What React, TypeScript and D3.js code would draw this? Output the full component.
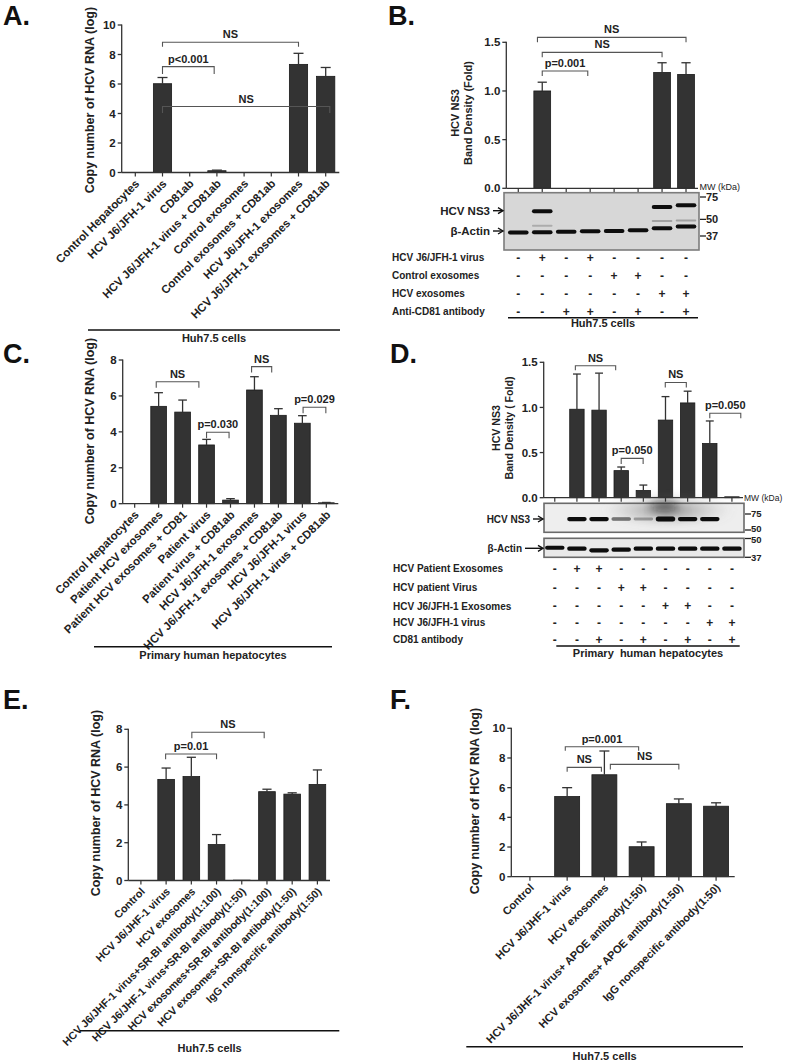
import React from 'react';
import * as d3 from 'd3';

const FONT = "'Liberation Sans', Arial, Helvetica, sans-serif";

// ================= Panel A =================
const categoriesA = [
  'Control Hepatocytes', 'HCV J6/JFH-1 virus', 'CD81ab', 'HCV J6/JFH-1 virus + CD81ab',
  'Control exosomes', 'Control exosomes + CD81ab', 'HCV J6/JFH-1 exosomes', 'HCV J6/JFH-1 exosomes + CD81ab',
];
const valuesA = [0, 6.02, 0, 0.12, 0, 0, 7.33, 6.52];
const errorsA = [0, 0.42, 0, 0.04, 0, 0, 0.75, 0.6];
const yTicksA = [0, 2, 4, 6, 8, 10];
const bracketsA = [
  { from: 1, to: 6, level: 8.83, arm: 0.3, label: 'NS' },
  { from: 1, to: 2.9, level: 7.18, arm: 0.5, label: 'p<0.001' },
  { from: 1, to: 7.15, level: 4.47, arm: 0.43, label: 'NS' },
];

// ================= Panel B =================
const valuesB = [0, 1.0, 0, 0, 0, 0, 1.19, 1.17];
const errorsB = [0, 0.09, 0, 0, 0, 0, 0.1, 0.12];
const yTicksB = [0, 0.5, 1.0, 1.5];
const bracketsB = [
  { from: 0.8, to: 7, level: 1.551, arm: 0.05, label: 'NS' },
  { from: 1, to: 6, level: 1.397, arm: 0.05, label: 'NS' },
  { from: 1, to: 2.9, level: 1.205, arm: 0.05, label: 'p=0.001' },
];
const ns3KdaB = [0, 58, 0, 0, 0, 0, 62.5, 64.5];
const ns3IntensityB = [0, 1, 0, 0, 0, 0, 1, 1];
const faintKdaB = [0, 44.5, 0, 0, 0, 0, 48.5, 49];
const faintIntensityB = [0, 0.2, 0, 0, 0, 0, 0.25, 0.25];
const actinKdaB = [39.5, 39.6, 39.9, 40.3, 40.5, 41.0, 42.6, 43.9];
const actinIntensityB = [1, 1, 1, 1, 1, 1, 1, 1];
const mwMarkersB = [75, 50, 37];
const rowLabelsB = ['HCV J6/JFH-1 virus', 'Control exosomes', 'HCV exosomes', 'Anti-CD81 antibody'];
const signsB = [
  ['-', '+', '-', '+', '-', '-', '-', '-'],
  ['-', '-', '-', '-', '+', '+', '-', '-'],
  ['-', '-', '-', '-', '-', '-', '+', '+'],
  ['-', '-', '+', '+', '-', '+', '-', '+'],
];

// ================= Panel C =================
const categoriesC = [
  'Control Hepatocytes', 'Patient HCV exosomes', 'Patient HCV exosomes + CD81', 'Patient virus',
  'Patient virus + CD81ab', 'HCV J6/JFH-1 exosomes', 'HCV J6/JFH-1 exosomes + CD81ab',
  'HCV J6/JFH-1 virus', 'HCV J6/JFH-1 virus + CD81ab',
];
const valuesC = [0, 5.42, 5.1, 3.27, 0.2, 6.33, 4.92, 4.48, 0.05];
const errorsC = [0, 0.76, 0.67, 0.31, 0.08, 0.74, 0.37, 0.42, 0.02];
const yTicksC = [0, 2, 4, 6, 8];
const bracketsC = [
  { from: 0.9, to: 2.68, level: 6.79, arm: 0.33, label: 'NS' },
  { from: 4.88, to: 5.72, level: 7.63, arm: 0.33, label: 'NS' },
  { from: 3, to: 3.94, level: 3.98, arm: 0.33, label: 'p=0.030' },
  { from: 7.03, to: 7.98, level: 5.37, arm: 0.33, label: 'p=0.029' },
];

// ================= Panel D =================
const valuesD = [0, 0.98, 0.97, 0.30, 0.08, 0.86, 1.05, 0.60, 0.01];
const errorsD = [0, 0.39, 0.41, 0.04, 0.06, 0.26, 0.13, 0.25, 0];
const yTicksD = [0, 0.5, 1.0, 1.5];
const bracketsD = [
  { from: 0.93, to: 2.75, level: 1.462, arm: 0.05, label: 'NS' },
  { from: 4.99, to: 5.94, level: 1.277, arm: 0.055, label: 'NS' },
  { from: 3, to: 3.99, level: 0.436, arm: 0.063, label: 'p=0.050' },
  { from: 7, to: 8.4, level: 0.935, arm: 0.055, label: 'p=0.050' },
];
const ns3KdaD = [66, 66, 66, 66, 66, 66, 66, 66, 66];
const ns3IntensityD = [0, 1, 1, 0.55, 0.3, 1.45, 1, 1, 0];
const actinKdaD = [43.1, 42.5, 41.4, 41.8, 42.5, 42.5, 42.5, 42.5, 42.5];
const actinIntensityD = [1, 1, 1, 1, 1, 1, 1, 1, 1];
const mwNs3D = [75, 50];
const mwActinD = [50, 37];
const rowLabelsD = ['HCV Patient Exosomes', 'HCV patient Virus', 'HCV J6/JFH-1 Exosomes', 'HCV J6/JFH-1 virus', 'CD81 antibody'];
const signsD = [
  ['-', '+', '+', '-', '-', '-', '-', '-', '-'],
  ['-', '-', '-', '+', '+', '-', '-', '-', '-'],
  ['-', '-', '-', '-', '-', '+', '+', '-', '-'],
  ['-', '-', '-', '-', '-', '-', '-', '+', '+'],
  ['-', '-', '+', '-', '+', '-', '+', '-', '+'],
];

// ================= Panel E =================
const categoriesE = [
  'Control', 'HCV J6/JHF-1 virus', 'HCV exosomes', 'HCV J6/JHF-1 virus+SR-BI antibody(1:100)',
  'HCV J6/JHF-1 virus+SR-BI antibody(1:50)', 'HCV exosomes+SR-BI antibody(1:100)',
  'HCV exosomes+SR-BI antibody(1:50)', 'IgG nonspecific antibody(1:50)',
];
const valuesE = [0, 5.35, 5.5, 1.9, 0.02, 4.7, 4.57, 5.08];
const errorsE = [0, 0.6, 1.02, 0.53, 0, 0.13, 0.07, 0.77];
const yTicksE = [0, 2, 4, 6, 8];
const bracketsE = [
  { from: 2.02, to: 4.89, level: 7.84, arm: 0.32, label: 'NS' },
  { from: 0.98, to: 3, level: 6.69, arm: 0.27, label: 'p=0.01' },
];

// ================= Panel F =================
const categoriesF = [
  'Control', 'HCV J6/JHF-1 virus', 'HCV exosomes', 'HCV J6/JHF-1 virus+ APOE antibody(1:50)',
  'HCV exosomes+ APOE antibody(1:50)', 'IgG nonspecific antibody(1:50)',
];
const valuesF = [0, 5.4, 6.87, 2.02, 4.92, 4.75];
const errorsF = [0, 0.6, 1.6, 0.32, 0.32, 0.23];
const yTicksF = [0, 2, 4, 6, 8, 10];
const bracketsF = [
  { from: 0.95, to: 2.92, level: 8.76, arm: 0.27, label: 'p=0.001' },
  { from: 1, to: 1.92, level: 7.37, arm: 0.3, label: 'NS' },
  { from: 2.16, to: 4, level: 7.57, arm: 0.34, label: 'NS' },
];

type Bracket = { from: number; to: number; level: number; arm: number; label: string };

function makeScales(n: number, L: any, yMax: number) {
  const x = d3.scaleBand<number>().domain(d3.range(n)).range([L.left, L.right])
    .paddingInner(L.pad).paddingOuter(L.pad / 2);
  const step = x.step();
  const cx = (f: number) => L.left + step * (f + 0.5);
  const y = d3.scaleLinear().domain([0, yMax]).range([L.bottom, L.top]);
  return { x, y, cx, step, bw: x.bandwidth() };
}

function BarPanel(props: {
  L: any; values: number[]; errors: number[]; yTicks: number[]; fmt: (v: number) => string;
  brackets: Bracket[]; cats?: string[];
}) {
  const { L, values, errors, yTicks, fmt, brackets, cats } = props;
  const yMax = yTicks[yTicks.length - 1];
  const { x, y, cx, bw } = makeScales(values.length, L, yMax);
  const cap = Math.min(10, bw * 0.55);
  const axisRight = L.axisRight ?? L.right;
  return (
    <g fontFamily={FONT}>
      {values.map((v, i) => (
        <rect key={'b' + i} x={x(i)} y={y(v)} width={bw} height={Math.max(0, y(0) - y(v))}
          fill="#333" stroke="#1a1a1a" strokeWidth={0.8} />
      ))}
      {values.map((v, i) => errors[i] > 0 ? (
        <g key={'e' + i} stroke="#333" strokeWidth={1.3}>
          <line x1={cx(i)} x2={cx(i)} y1={y(v)} y2={y(v + errors[i])} />
          <line x1={cx(i) - cap / 2} x2={cx(i) + cap / 2} y1={y(v + errors[i])} y2={y(v + errors[i])} />
        </g>
      ) : null)}
      {/* axes */}
      <line x1={L.left} x2={L.left} y1={y(yMax) - 0.5} y2={y(0)} stroke="#333" strokeWidth={1.3} />
      <line x1={L.left} x2={axisRight} y1={y(0)} y2={y(0)} stroke="#333" strokeWidth={1.3} />
      {yTicks.map((t) => (
        <g key={'yt' + t}>
          <line x1={L.left - 4} x2={L.left} y1={y(t)} y2={y(t)} stroke="#333" strokeWidth={1.3} />
          <text x={L.left - 6} y={y(t)} dy="0.36em" textAnchor="end" fontSize={L.tickFont ?? 11.5}
            fontWeight="bold" fill="#222">{fmt(t)}</text>
        </g>
      ))}
      {values.map((_, i) => (
        <line key={'xt' + i} x1={cx(i)} x2={cx(i)} y1={y(0)} y2={y(0) + 4} stroke="#333" strokeWidth={1.2} />
      ))}
      {cats && cats.map((c, i) => (
        <text key={'c' + i} transform={`translate(${cx(i) + L.catDx},${y(0) + L.catDy}) rotate(-45)`}
          textAnchor="end" dy="0.35em" fontSize={L.catFont} fontWeight="bold" fill="#222">{c}</text>
      ))}
      {brackets.map((b, i) => {
        const x1 = cx(b.from), x2 = cx(b.to), yy = y(b.level), ya = y(b.level - b.arm);
        return (
          <g key={'br' + i}>
            <path d={`M${x1},${ya}V${yy}H${x2}V${ya}`} fill="none" stroke="#555" strokeWidth={1.1} />
            <text x={(x1 + x2) / 2} y={yy - 4} textAnchor="middle" fontSize={11} fontWeight="bold" fill="#222">{b.label}</text>
          </g>
        );
      })}
    </g>
  );
}

function YLabel({ x, y, lines, size, gap }: { x: number; y: number; lines: string[]; size: number; gap?: number }) {
  return (
    <g fontFamily={FONT}>
      {lines.map((l, i) => (
        <text key={i} transform={`translate(${x + i * (gap ?? 0)},${y}) rotate(-90)`} textAnchor="middle"
          dy="0.35em" fontSize={size} fontWeight="bold" fill="#222" style={{ whiteSpace: 'pre' }}>{l}</text>
      ))}
    </g>
  );
}

function GroupLabel({ x1, x2, y, text, ty, size }: { x1: number; x2: number; y: number; text: string; ty: number; size?: number }) {
  return (
    <g fontFamily={FONT}>
      <line x1={x1} x2={x2} y1={y} y2={y} stroke="#111" strokeWidth={1.5} />
      <text x={(x1 + x2) / 2} y={ty} textAnchor="middle" fontSize={size ?? 11} fontWeight="bold" fill="#222"
        style={{ whiteSpace: 'pre' }}>{text}</text>
    </g>
  );
}

function Blot(props: {
  x0: number; x1: number; y0: number; y1: number; centers: number[]; laneW: number;
  mwDomain: number[]; mwRange: number[]; markers: number[]; markerFont: number; markerShift?: number[];
  bands: { kda: number[]; intensity: number[]; thick: number }[]; fill: string; stroke: string; children?: any;
}) {
  const { x0, x1, y0, y1, centers, laneW, mwDomain, mwRange, markers, bands, fill, stroke, markerFont } = props;
  const shift = props.markerShift ?? markers.map(() => 0);
  const mw = d3.scaleLog().domain(mwDomain).range(mwRange);
  return (
    <g fontFamily={FONT}>
      <rect x={x0} y={y0} width={x1 - x0} height={y1 - y0} fill={fill} stroke={stroke} strokeWidth={1.6} />
      {props.children}
      <g filter="url(#bandBlur)">
        {bands.map((b, bi) => centers.map((c, i) => {
          const it = b.intensity[i];
          if (!it) return null;
          const th = b.thick * (0.55 + 0.45 * Math.min(it, 1.6));
          return (
            <rect key={bi + '-' + i} x={c - laneW / 2} y={mw(b.kda[i]) - th / 2} width={laneW} height={th}
              rx={th / 2} fill="#0d0d0d" opacity={Math.min(1, it)} />
          );
        }))}
      </g>
      {markers.map((m, k) => (
        <g key={m}>
          <line x1={x1 + 1} x2={x1 + 7} y1={mw(m)} y2={mw(m)} stroke="#222" strokeWidth={1.3} />
          <text x={x1 + 7} y={mw(m) + shift[k]} dy="0.36em" fontSize={markerFont} fontWeight="bold" fill="#222">{m}</text>
        </g>
      ))}
    </g>
  );
}

function ArrowLabel({ text, xEnd, y, size, len }: { text: string; xEnd: number; y: number; size: number; len: number }) {
  return (
    <g fontFamily={FONT}>
      <text x={xEnd - len - 3} y={y} dy="0.35em" textAnchor="end" fontSize={size} fontWeight="bold" fill="#222">{text}</text>
      <line x1={xEnd - len} x2={xEnd - 1} y1={y} y2={y} stroke="#111" strokeWidth={1.4} />
      <path d={`M${xEnd - 5},${y - 3}L${xEnd},${y}L${xEnd - 5},${y + 3}`} fill="none" stroke="#111" strokeWidth={1.4} />
    </g>
  );
}

function SignTable({ labels, signs, centers, rows, labelX, size }: {
  labels: string[]; signs: string[][]; centers: number[]; rows: number[]; labelX: number; size: number;
}) {
  return (
    <g fontFamily={FONT} fontWeight="bold" fill="#222">
      {labels.map((l, r) => (
        <g key={r}>
          <text x={labelX} y={rows[r]} dy="0.35em" fontSize={size}>{l}</text>
          {signs[r].map((s, i) => (
            <text key={i} x={centers[i]} y={rows[r]} dy="0.35em" textAnchor="middle" fontSize={12}>{s}</text>
          ))}
        </g>
      ))}
    </g>
  );
}

function PanelLetter({ x, y, t }: { x: number; y: number; t: string }) {
  return <text x={x} y={y} fontFamily={FONT} fontWeight="bold" fontSize={27} fill="#111">{t}</text>;
}

const fmtInt = (v: number) => d3.format('d')(v);
const fmt1 = (v: number) => d3.format('.1f')(v);

export default function App() {
  const LA = { left: 121.7, right: 339.3, top: 25, bottom: 172.5, pad: 0.33, catFont: 11.5, catDx: 2, catDy: 9 };
  const LB = { left: 506.3, right: 698, top: 42.3, bottom: 188.3, pad: 0.3 };
  const LC = { left: 122.7, right: 338.3, top: 360, bottom: 503.7, pad: 0.345, catFont: 11.5, catDx: 2, catDy: 9 };
  const LD = { left: 543.7, right: 743, top: 362.3, bottom: 497.7, pad: 0.35 };
  const LE = { left: 128.3, right: 330, top: 729.3, bottom: 880.5, pad: 0.34, catFont: 10.8, catDx: 2, catDy: 9 };
  const LF = { left: 511.3, right: 734.7, top: 728.3, bottom: 876.7, pad: 0.33, catFont: 11, catDx: 2, catDy: 9 };

  const sB = makeScales(valuesB.length, LB, 1.5);
  const centersB = valuesB.map((_, i) => sB.cx(i));
  const sD = makeScales(valuesD.length, LD, 1.5);
  const centersD = valuesD.map((_, i) => sD.cx(i));

  return (
    <svg width={786} height={1063} viewBox="0 0 786 1063"
      style={{ position: 'absolute', left: 0, top: 0, display: 'block', background: '#fff' }}>
      <defs>
        <filter id="bandBlur" x="-10%" y="-100%" width="120%" height="300%">
          <feGaussianBlur stdDeviation="0.7" />
        </filter>
        <filter id="softBlur" x="-50%" y="-50%" width="200%" height="200%">
          <feGaussianBlur stdDeviation="4" />
        </filter>
        <radialGradient id="smudge" cx="0.5" cy="0.5" r="0.5">
          <stop offset="0" stopColor="#222" stopOpacity="0.55" />
          <stop offset="0.45" stopColor="#555" stopOpacity="0.3" />
          <stop offset="1" stopColor="#888" stopOpacity="0" />
        </radialGradient>
      </defs>
      <rect x={0} y={0} width={786} height={1063} fill="#fff" />

      {/* Panel A */}
      <PanelLetter x={3} y={25} t="A." />
      <YLabel x={90} y={100} lines={['Copy number of HCV RNA (log)']} size={12.5} />
      <BarPanel L={LA} values={valuesA} errors={errorsA} yTicks={yTicksA} fmt={fmtInt} brackets={bracketsA} cats={categoriesA} />
      <GroupLabel x1={88} x2={340} y={330} ty={341.5} text="Huh7.5 cells" />

      {/* Panel B */}
      <PanelLetter x={388} y={25} t="B." />
      <YLabel x={454.7} y={113} lines={['HCV NS3', 'Band Density (Fold)']} size={11} gap={13.3} />
      <BarPanel L={LB} values={valuesB} errors={errorsB} yTicks={yTicksB} fmt={fmt1} brackets={bracketsB} />
      <text x={699.5} y={189.5} fontFamily={FONT} fontSize={9} fill="#222">MW (kDa)</text>
      <Blot x0={504} x1={699} y0={192.7} y1={250} centers={centersB} laneW={sB.step * 0.86}
        mwDomain={[75, 37]} mwRange={[197, 236]} markers={mwMarkersB} markerFont={11} fill="#d7d7d7" stroke="#7c7c7c"
        bands={[
          { kda: ns3KdaB, intensity: ns3IntensityB, thick: 4 },
          { kda: faintKdaB, intensity: faintIntensityB, thick: 3 },
          { kda: actinKdaB, intensity: actinIntensityB, thick: 4 },
        ]} />
      <ArrowLabel text="HCV NS3" xEnd={503} y={210.7} size={11.5} len={10} />
      <ArrowLabel text="β-Actin" xEnd={503} y={231} size={11.5} len={10} />
      <SignTable labels={rowLabelsB} signs={signsB} centers={centersB} rows={[257.7, 275.7, 293.3, 311.7]} labelX={392} size={10} />
      <GroupLabel x1={508} x2={698} y={317.7} ty={327} text="Huh7.5 cells" />

      {/* Panel C */}
      <PanelLetter x={3} y={363} t="C." />
      <YLabel x={90} y={431} lines={['Copy number of HCV RNA (log)']} size={12.5} />
      <BarPanel L={LC} values={valuesC} errors={errorsC} yTicks={yTicksC} fmt={fmtInt} brackets={bracketsC} cats={categoriesC} />
      <GroupLabel x1={94} x2={332} y={646.7} ty={658.5} text="Primary human hepatocytes" />

      {/* Panel D */}
      <PanelLetter x={390} y={363} t="D." />
      <YLabel x={496.3} y={428} lines={['HCV NS3', 'Band Density ( Fold)']} size={10.6} gap={13.4} />
      <BarPanel L={LD} values={valuesD} errors={errorsD} yTicks={yTicksD} fmt={fmt1} brackets={bracketsD} />
      <text x={744} y={500.5} fontFamily={FONT} fontSize={8.5} fill="#222">MW (kDa)</text>
      <Blot x0={544} x1={744} y0={503.3} y1={532.3} centers={centersD} laneW={sD.step * 0.88}
        mwDomain={[75, 50]} mwRange={[514, 530]} markers={mwNs3D} markerFont={9.5} markerShift={[0, -1]}
        fill="#eeeeee" stroke="#6a6a6a"
        bands={[{ kda: ns3KdaD, intensity: ns3IntensityD, thick: 4.2 }]}>
        <ellipse cx={668} cy={510} rx={66} ry={16} fill="url(#smudge)" filter="url(#softBlur)" />
        <ellipse cx={664} cy={506} rx={14} ry={5} fill="#111" opacity={0.5} filter="url(#softBlur)" />
      </Blot>
      <Blot x0={544} x1={744} y0={538.3} y1={557.3} centers={centersD} laneW={sD.step * 0.88}
        mwDomain={[50, 37]} mwRange={[538.5, 557.3]} markers={mwActinD} markerFont={9.5} markerShift={[1.5, 0]}
        fill="#e9e9e9" stroke="#6a6a6a"
        bands={[{ kda: actinKdaD, intensity: actinIntensityD, thick: 4.2 }]} />
      <ArrowLabel text="HCV NS3" xEnd={543} y={519} size={10} len={10} />
      <ArrowLabel text="β-Actin" xEnd={543} y={548.3} size={10} len={18} />
      <SignTable labels={rowLabelsD} signs={signsD} centers={centersD} rows={[568.3, 587.3, 606, 622.7, 639.3]} labelX={393} size={10} />
      <GroupLabel x1={556.3} x2={739.7} y={646} ty={656.7} text="Primary  human hepatocytes" />

      {/* Panel E */}
      <PanelLetter x={3} y={709} t="E." />
      <YLabel x={96} y={803} lines={['Copy number of HCV RNA (log)']} size={12.5} />
      <BarPanel L={LE} values={valuesE} errors={errorsE} yTicks={yTicksE} fmt={fmtInt} brackets={bracketsE} cats={categoriesE} />
      <GroupLabel x1={80} x2={339.3} y={1030.7} ty={1052} text="Huh7.5 cells" />

      {/* Panel F */}
      <PanelLetter x={390} y={709} t="F." />
      <YLabel x={474.7} y={801} lines={['Copy number of HCV RNA (log)']} size={12.5} />
      <BarPanel L={LF} values={valuesF} errors={errorsF} yTicks={yTicksF} fmt={fmtInt} brackets={bracketsF} cats={categoriesF} />
      <GroupLabel x1={466.3} x2={743} y={1046.7} ty={1060} text="Huh7.5 cells" />
    </svg>
  );
}
